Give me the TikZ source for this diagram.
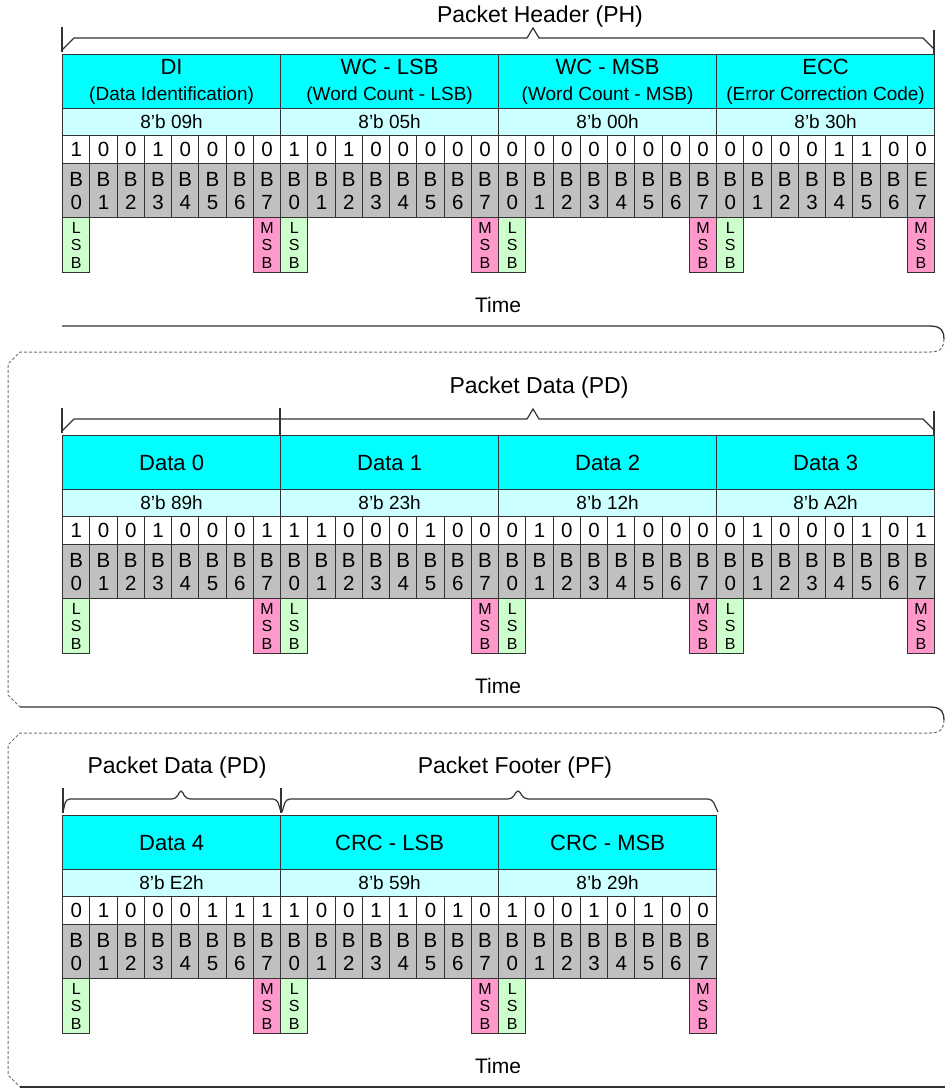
\documentclass[tikz,border=0pt]{standalone}
\usepackage{fontspec}
\setmainfont{Liberation Sans}
\usetikzlibrary{positioning, calc}
\definecolor{hdrCyan}{HTML}{00FFFF}
\definecolor{valCyan}{HTML}{CCFFFF}
\definecolor{bitGray}{HTML}{C0C0C0}
\definecolor{lsbGreen}{HTML}{CCFFCC}
\definecolor{msbPink}{HTML}{FF99CC}
\definecolor{lineGray}{HTML}{333333}
\definecolor{tornGray}{HTML}{707070}

\begin{document}
\begin{tikzpicture}[
  x=1pt, y=-1pt,
  cell/.style={draw=lineGray, line width=1.2pt, inner sep=0pt, anchor=north west},
  bytebox/.style={cell, fill=hdrCyan, minimum width=218pt, minimum height=54pt,
    align=center, font=\fontsize{22}{26}\selectfont},
  valbox/.style={cell, fill=valCyan, minimum width=218pt, minimum height=27pt,
    font=\fontsize{19}{22}\selectfont},
  bitbox/.style={cell, fill=white, minimum width=27.25pt, minimum height=28pt,
    font=\fontsize{20.5}{23}\selectfont},
  idxbox/.style={cell, fill=bitGray, minimum width=27.25pt, minimum height=54pt,
    align=center, font=\fontsize{20.5}{23}\selectfont},
  lsbbox/.style={cell, fill=lsbGreen, minimum width=27.25pt, minimum height=55pt,
    align=center, font=\fontsize{16}{17.5}\selectfont},
  msbbox/.style={lsbbox, fill=msbPink},
  pkttitle/.style={font=\fontsize{23}{26}\selectfont},
  timelabel/.style={font=\fontsize{21}{24}\selectfont},
  bracel/.style={draw=lineGray, line width=1.2pt},
  edgeline/.style={draw=lineGray, line width=1.3pt},
  tornline/.style={draw=tornGray, line width=1pt, dash pattern=on 3pt off 2pt},
]
\useasboundingbox (0,0) rectangle (945,1089);

% Packet header bytes
\foreach \t/\s/\v [count=\j from 0] in {DI/(Data Identification)/8'b 09h,
    WC - LSB/(Word Count - LSB)/8'b 05h, WC - MSB/(Word Count - MSB)/8'b 00h,
    ECC/(Error Correction Code)/8'b 30h}{
  \node[bytebox] (ph-\j) at ({62+218*\j},54) {\t\\{\fontsize{19}{26}\selectfont\s}};
  \node[valbox] (phv-\j) at ({62+218*\j},108) {\v};
}

% Packet data bytes
\foreach \t/\v [count=\j from 0] in {Data 0/8'b 89h, Data 1/8'b 23h,
    Data 2/8'b 12h, Data 3/8'b A2h}{
  \node[bytebox] (pd-\j) at ({62+218*\j},435) {\t};
  \node[valbox] (pdv-\j) at ({62+218*\j},489) {\v};
}

% Last data byte and footer
\foreach \t/\v [count=\j from 0] in {Data 4/8'b E2h, CRC - LSB/8'b 59h,
    CRC - MSB/8'b 29h}{
  \node[bytebox] (pf-\j) at ({62+218*\j},815) {\t};
  \node[valbox] (pfv-\j) at ({62+218*\j},869) {\v};
}

% Bit rows, bit numbers, LSB/MSB marks
\foreach \py/\bits in {
    54/{1,0,0,1,0,0,0,0, 1,0,1,0,0,0,0,0, 0,0,0,0,0,0,0,0, 0,0,0,0,1,1,0,0},
    435/{1,0,0,1,0,0,0,1, 1,1,0,0,0,1,0,0, 0,1,0,0,1,0,0,0, 0,1,0,0,0,1,0,1},
    815/{0,1,0,0,0,1,1,1, 1,0,0,1,1,0,1,0, 1,0,0,1,0,1,0,0}}{
  \foreach \b [count=\i from 0] in \bits {
    \pgfmathtruncatemacro\k{mod(\i,8)}
    \node[bitbox] (bit-\py-\i) at ({62+27.25*\i},{\py+81}) {\b};
    \node[idxbox] (idx-\py-\i) at ({62+27.25*\i},{\py+109})
      {\ifnum\i=31 \ifnum\py=54 E\else B\fi\else B\fi\\\k};
    \ifnum\k=0 \node[lsbbox] (lsb-\py-\i) at ({62+27.25*\i},{\py+163}) {L\\S\\B};\fi
    \ifnum\k=7 \node[msbbox] (msb-\py-\i) at ({62+27.25*\i},{\py+163}) {M\\S\\B};\fi
  }
  \node[timelabel] (time-\py) at (498,{\py+251}) {Time};
}

% Titles
\node[pkttitle] (ph-title) at (540,17) {Packet Header (PH)};
\node[pkttitle] (pd-title) at (539,388) {Packet Data (PD)};
\node[pkttitle] (pd2-title) at (177,768) {Packet Data (PD)};
\node[pkttitle] (pf-title) at (515,768) {Packet Footer (PF)};

% Braces
\draw[bracel] (62,27) -- (62,52);
\draw[bracel] (62,50) -- (74,38) -- (527,38) -- (533,28) -- (539,38) -- (923,38) -- (934,49);
\draw[bracel] (934,30) -- (934,55);
\draw[bracel] (62,408) -- (62,433);
\draw[bracel] (280,408) -- (280,435);
\draw[bracel] (62,431) -- (74,419) -- (527,419) -- (533,409) -- (539,419) -- (923,419) -- (934,430);
\draw[bracel] (934,411) -- (934,436);
\draw[bracel] (63,788) -- (63,813);
\draw[bracel] (281,788) -- (281,813);
\draw[bracel, rounded corners=4pt] (63,812) -- (66,799) -- (176,799) -- (181,789)
  -- (186,799) -- (277,799) -- (281,812);
\draw[bracel, rounded corners=4pt] (282,812) -- (286,799) -- (512,799) -- (518,789)
  -- (524,799) -- (712,799) -- (718,812);

% Panel edges
\draw[edgeline] (62,326) -- (930,326) .. controls (942,326) and (944,332) .. (944,339);
\draw[tornline] (944,339) .. controls (944,346) and (942,352) .. (930,352)
  -- (20,352) -- (8,364) -- (8,695) -- (20,707);
\draw[edgeline] (20,707) -- (930,707) .. controls (942,707) and (944,713) .. (944,720);
\draw[tornline] (944,720) .. controls (944,727) and (942,733) .. (930,733)
  -- (20,733) -- (8,745) -- (8,1075) -- (20,1087);
\draw[edgeline] (20,1087) -- (945,1087);

\end{tikzpicture}
\end{document}
